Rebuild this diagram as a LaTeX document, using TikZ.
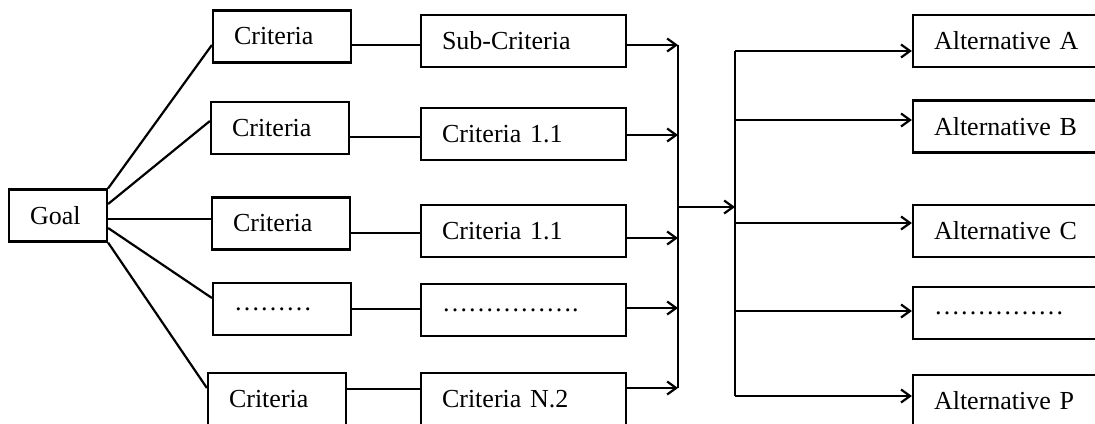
\documentclass[tikz,border=0pt]{standalone}
\usepackage{fontspec}
\setmainfont{Liberation Serif}
\usetikzlibrary{arrows.meta,positioning}

\begin{document}
\begin{tikzpicture}[x=0.5pt,y=-0.5pt,
line width=1.1pt,
box/.style={draw, minimum height=26pt, inner xsep=10.5pt, inner ysep=0pt,
            text width=#1, align=left, font=\fontsize{13}{15}\selectfont},
arr/.style={-{Straight Barb[length=4.5pt,width=6.5pt]}}
                        ]
\useasboundingbox (0,0) rectangle (1095,423);
\clip (0,0) rectangle (1095,423);
\node (g) [box=28pt] at (58,215.5) {Goal};
%
\node (c1) [box=48pt] at (282,36.5) {Criteria};
\node (c2) [box=48pt] at (280,128)  {Criteria};
\node (c3) [box=48pt] at (281,223.5) {Criteria};
\node (c4) [box=48pt] at (282,309)  {………};
\node (c5) [box=48pt] at (277,399)  {Criteria};
%
\node (s1) [box=81.5pt] at (523.5,41)  {Sub-Criteria};
\node (s2) [box=81.5pt] at (523.5,134) {Criteria 1.1};
\node (s3) [box=81.5pt] at (523.5,231) {Criteria 1.1};
\node (s4) [box=81.5pt] at (523.5,310) {…………….};
\node (s5) [box=81.5pt] at (523.5,399) {Criteria N.2};
%
\node (a1) [box=82.5pt] at (1016.5,41)    {Alternative A};
\node (a2) [box=82.5pt] at (1016.5,126.5) {Alternative B};
\node (a3) [box=82.5pt] at (1016.5,231)   {Alternative C};
\node (a4) [box=82.5pt] at (1016.5,313)   {……………};
\node (a5) [box=82.5pt] at (1016.5,401)   {Alternative P};
%
\coordinate (bt1) at (678,45);
\coordinate (bb1) at (678,388);
\coordinate (bt2) at (735,51);
\coordinate (bb2) at (735,396);
\coordinate (m1)  at (678,207);
\coordinate (m2)  at (735,207);

%
\foreach \ga/\gs/\c/\cs in {north east/0pt/c1/-4.25pt, east/5.75pt/c2/3.5pt,
    east/-1.75pt/c3/2.25pt, east/-6.25pt/c4/5.5pt, south east/0pt/c5/5.5pt}
\draw ([yshift=\gs]g.\ga) -- ([yshift=\cs]\c.west);

\foreach \c/\s/\d in {c1/s1/-4.25pt, c2/s2/-4.5pt, c3/s3/-4.75pt, c4/s4/0pt, c5/s5/5pt}
\draw ([yshift=\d]\c.east) -- ([yshift=\d]\c.east -| \s.west);

\foreach \s/\d in {s1/-2pt, s2/-0.5pt, s3/-3.5pt, s4/1pt, s5/5.5pt}
    \draw[arr] ([yshift=\d]\s.east) -- ([yshift=\d]\s.east -| bt1);

\draw (bt1) -- (bb1);
\draw[arr] (m1) -- (m2);
\draw (bt2) -- (bb2);

\foreach \a/\d in {a1/-5pt, a2/3.25pt, a3/4pt, a4/1pt, a5/2.5pt}
    \draw[arr] ([yshift=\d]\a.west -| bt2) -- ([yshift=\d]\a.west);
\end{tikzpicture}
\end{document}
